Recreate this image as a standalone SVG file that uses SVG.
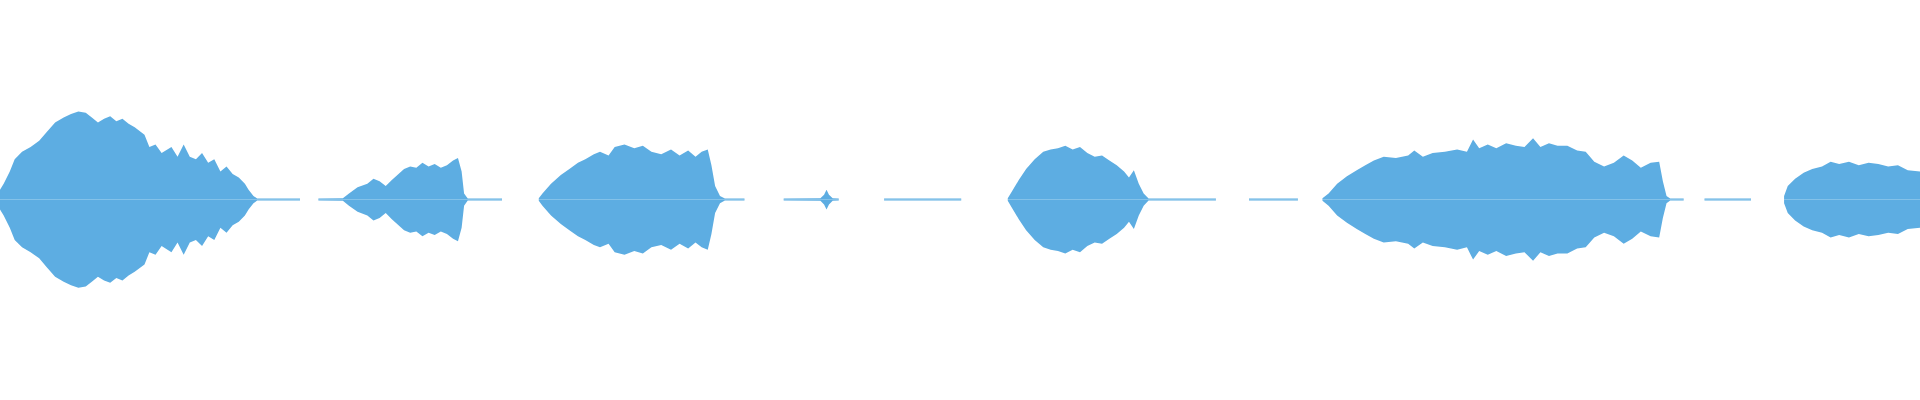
<svg xmlns="http://www.w3.org/2000/svg" width="1920" height="400" viewBox="0 0 1920 400">
<style>.w{fill:#5dade2}</style>
<defs>
<g id="top">
<polygon class="w" points="0,155 3,150 8,140 12,130 18,124 25,120 32,115 38,108 45,100 52,96 58,93 64,91 70,92 75,96 80,100 85,97 90,95 95,99 100,97 105,101 110,104 118,110 122,120 127,118 132,125 140,120 145,128 150,118 155,128 160,130 165,125 170,133 175,130 180,140 185,136 190,142 195,145 200,150 203,155 207,160 210,162.2 245,162.2 245,163 0,163"/>
<polygon class="w" points="260,162.2 280,162 285,158 292,153 300,150 305,146 310,148 315,152 320,147 330,138 335,136 340,137 345,133 350,136 355,134 360,137 365,135 370,131 374,129 377,140 379,158 382,162.2 410,162.2 410,163 260,163"/>
<polygon class="w" points="440,162 443,158 450,150 458,143 465,138 472,133 478,130 485,126 490,124 497,127 502,120 510,118 518,121 525,119 532,124 540,126 548,122 555,127 562,123 568,128 573,124 578,122 581,135 584,152 588,160 592,162.2 608,162.2 608,163 440,163"/>
<polygon class="w" points="640,162.2 670,162 673,159 675,155 677,159 680,162 685,162.2 685,163 640,163"/>
<polygon class="w" points="722,162.2 785,162.2 785,163 722,163"/>
<polygon class="w" points="823,162 826,157 832,147 838,138 845,130 852,124 858,122 864,121 870,119 876,122 882,120 888,125 894,128 900,127 906,131 912,135 918,140 922,145 926,139 930,150 934,158 938,162.2 993,162.2 993,163 823,163"/>
<polygon class="w" points="1020,162.2 1060,162.2 1060,163 1020,163"/>
<polygon class="w" points="1080,162 1085,158 1092,150 1100,144 1108,139 1115,135 1122,131 1130,128 1140,129 1150,127 1155,123 1162,128 1170,125 1180,124 1190,122 1198,124 1203,114 1208,121 1215,118 1222,121 1230,117 1238,119 1245,120 1252,113 1258,120 1265,117 1272,119 1280,119 1288,123 1295,124 1302,132 1310,136 1318,133 1326,127 1333,131 1340,137 1348,133 1355,132 1358,148 1361,160 1364,162.2 1375,162.2 1375,163 1080,163"/>
<polygon class="w" points="1392,162.2 1430,162.2 1430,163 1392,163"/>
<polygon class="w" points="1457,160 1460,152 1466,146 1473,141 1480,138 1488,136 1495,132 1502,134 1510,132 1518,135 1526,133 1534,134 1542,136 1550,135 1558,139 1568,140 1568,163 1457,163"/>
</g>
</defs>
<g transform="scale(1.22449)">
<use href="#top"/>
<use href="#top" transform="translate(0,326) scale(1,-1)"/>
</g>
</svg>
